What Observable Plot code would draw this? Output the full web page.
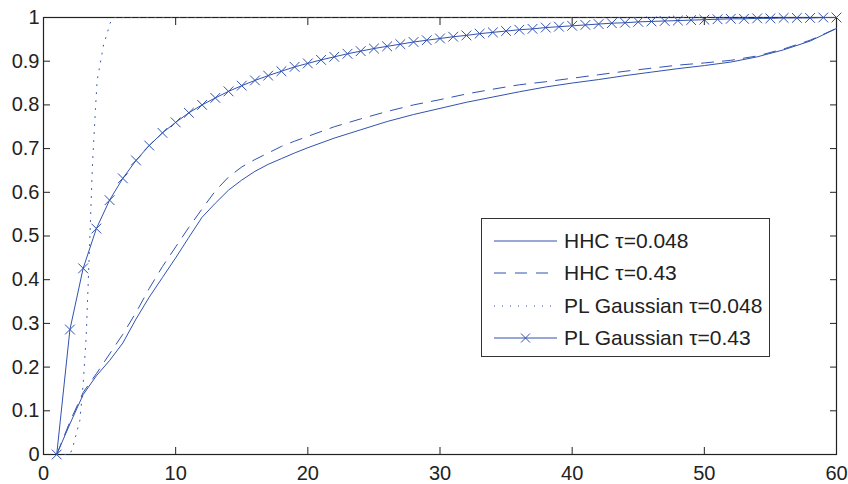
<!DOCTYPE html>
<html>
<head>
<meta charset="utf-8">
<script src="https://cdn.jsdelivr.net/npm/d3@7"></script>
<script src="https://cdn.jsdelivr.net/npm/@observablehq/plot@0.6"></script>
<style>
  body { margin: 0; background: #fff; }
  #chart { position: relative; width: 848px; height: 484px; font-family: "Liberation Sans", Arial, sans-serif; }
  #legend { position: absolute; left: 481px; top: 218px; width: 289px; height: 139px; border: 1px solid #333; background: #fff; box-sizing: border-box; }
  .row { position: absolute; left: 12px; height: 24px; display: flex; align-items: center; font-size: 21px; color: #222; white-space: nowrap; }
  .row svg { margin-right: 7px; }
</style>
</head>
<body>
<div id="chart"></div>
<script>
// ---- data ----
const xTicks = [0, 10, 20, 30, 40, 50, 60];
const yTicks = [0, 0.1, 0.2, 0.3, 0.4, 0.5, 0.6, 0.7, 0.8, 0.9, 1];

const seriesNames = ["HHC \u03c4=0.048", "HHC \u03c4=0.43", "PL Gaussian \u03c4=0.048", "PL Gaussian \u03c4=0.43"];

const hhc048X = [1, 2, 3, 4, 5, 6, 7, 8, 9, 10, 11, 12, 13, 14, 15, 16, 17, 18, 19, 20, 22, 24, 26, 28, 30, 32, 34, 36, 38, 40, 42, 44, 46, 48, 50, 52, 54, 56, 58, 60];
const hhc048Y = [0, 0.07, 0.137, 0.18, 0.215, 0.255, 0.31, 0.36, 0.405, 0.45, 0.497, 0.543, 0.575, 0.605, 0.628, 0.648, 0.664, 0.677, 0.69, 0.702, 0.724, 0.743, 0.762, 0.778, 0.792, 0.806, 0.818, 0.83, 0.841, 0.85, 0.858, 0.867, 0.875, 0.883, 0.89, 0.898, 0.91, 0.926, 0.946, 0.975];

const hhc43X = [1, 2, 3, 4, 5, 6, 7, 8, 9, 10, 11, 12, 13, 14, 15, 16, 17, 18, 19, 20, 22, 24, 26, 28, 30, 32, 34, 36, 38, 40, 42, 44, 46, 48, 50, 52, 54, 56, 58, 60];
const hhc43Y = [0, 0.075, 0.142, 0.185, 0.23, 0.275, 0.325, 0.38, 0.43, 0.475, 0.52, 0.562, 0.603, 0.635, 0.658, 0.675, 0.69, 0.705, 0.717, 0.728, 0.75, 0.768, 0.785, 0.8, 0.812, 0.825, 0.836, 0.846, 0.853, 0.861, 0.869, 0.877, 0.884, 0.891, 0.896, 0.902, 0.912, 0.928, 0.948, 0.975];

const plg048X = [1, 2, 2.2, 2.75, 3.0, 3.23, 3.38, 3.56, 3.7, 3.93, 4.06, 4.31, 4.56, 4.82, 5.0, 5.3, 60];
const plg048Y = [0, 0, 0.015, 0.078, 0.16, 0.27, 0.39, 0.54, 0.66, 0.79, 0.856, 0.898, 0.94, 0.963, 0.985, 1, 1];

const plg43X = d3.range(1, 61);
const plg43Y = [0, 0.286, 0.426, 0.517, 0.582, 0.632, 0.673, 0.707, 0.736, 0.760, 0.782, 0.800, 0.816, 0.831, 0.844, 0.856, 0.867, 0.877, 0.887, 0.895, 0.903, 0.910, 0.917, 0.923, 0.929, 0.934, 0.939, 0.944, 0.948, 0.952, 0.956, 0.959, 0.963, 0.966, 0.969, 0.972, 0.974, 0.977, 0.979, 0.981, 0.983, 0.985, 0.987, 0.988, 0.990, 0.991, 0.992, 0.993, 0.994, 0.995, 0.996, 0.997, 0.997, 0.998, 0.998, 0.999, 0.999, 0.999, 1.0, 1.0];

// ---- build ----
const toRows = (xs, ys) => xs.map((x, i) => ({x, y: ys[i]}));
const hhc048 = toRows(hhc048X, hhc048Y);
const hhc43 = toRows(hhc43X, hhc43Y);
const plg048 = toRows(plg048X, plg048Y);
const plg43 = toRows(plg43X, plg43Y);

const color = "#3152b0";
const axisColor = "#222";
const fmt = d => String(d);

const chart = Plot.plot({
  width: 848,
  height: 484,
  marginLeft: 43,
  marginRight: 12,
  marginTop: 17,
  marginBottom: 30,
  style: { fontFamily: "'Liberation Sans', Arial, sans-serif", fontSize: "20px", color: axisColor, background: "#fff" },
  x: { domain: [0, 60] },
  y: { domain: [0, 1] },
  marks: [
    Plot.axisX({ ticks: xTicks, tickSize: -7, tickPadding: 18, tickFormat: fmt, label: null }),
    Plot.axisX({ anchor: "top", ticks: xTicks, tickSize: -7, tickFormat: () => "", label: null }),
    Plot.axisY({ ticks: yTicks, tickSize: -7, tickPadding: 11, tickFormat: fmt, label: null }),
    Plot.axisY({ anchor: "right", ticks: yTicks, tickSize: -7, tickFormat: () => "", label: null }),
    Plot.frame({ stroke: axisColor, strokeWidth: 1.2 }),
    Plot.line(hhc048, { x: "x", y: "y", stroke: color, strokeWidth: 1 }),
    Plot.line(hhc43, { x: "x", y: "y", stroke: color, strokeWidth: 1, strokeDasharray: "12,9" }),
    Plot.line(plg048, { x: "x", y: "y", stroke: color, strokeWidth: 1, strokeDasharray: "1,7" }),
    Plot.line(plg43, { x: "x", y: "y", stroke: color, strokeWidth: 1 }),
    Plot.dot(plg43, { x: "x", y: "y", stroke: color, symbol: "times", r: 4.5, strokeWidth: 1 })
  ]
});
document.getElementById("chart").appendChild(chart);

// ---- legend ----
const legend = document.createElement("div");
legend.id = "legend";
const dashes = [null, "12,9", "1,7", null];
const rowTops = [10, 42, 75, 107];
seriesNames.forEach((name, i) => {
  const row = document.createElement("div");
  row.className = "row";
  row.style.top = rowTops[i] + "px";
  const marker = i === 3 ? `<path d="M27,-4.5L36,4.5M27,4.5L36,-4.5" stroke="${color}" fill="none" stroke-width="1"/>` : "";
  row.innerHTML = `<svg width="63" height="12" viewBox="0 -6 63 12"><line x1="0" x2="63" y1="0" y2="0" stroke="${color}" stroke-width="1" ${dashes[i] ? `stroke-dasharray="${dashes[i]}"` : ""}/>${marker}</svg><span>${name}</span>`;
  legend.appendChild(row);
});
document.getElementById("chart").appendChild(legend);
</script>
</body>
</html>
